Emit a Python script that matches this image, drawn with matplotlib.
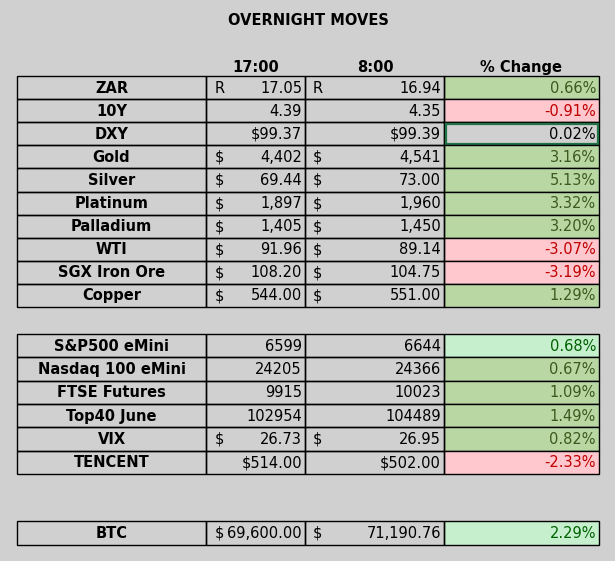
import matplotlib
matplotlib.use("Agg")
import matplotlib.pyplot as plt

plt.rcParams["font.family"] = ["Liberation Sans Narrow", "DejaVu Sans"]

# data
names = ["ZAR", "10Y", "DXY", "Gold", "Silver", "Platinum", "Palladium", "WTI", "SGX Iron Ore", "Copper",
         "S&P500 eMini", "Nasdaq 100 eMini", "FTSE Futures", "Top40 June", "VIX", "TENCENT", "BTC"]
pre1 = ["R", "", "", "$", "$", "$", "$", "$", "$", "$", "", "", "", "", "$", "", "$"]
val1 = ["17.05", "4.39", "$99.37", "4,402", "69.44", "1,897", "1,405", "91.96", "108.20", "544.00",
        "6599", "24205", "9915", "102954", "26.73", "$514.00", "69,600.00"]
pre2 = ["R", "", "", "$", "$", "$", "$", "$", "$", "$", "", "", "", "", "$", "", "$"]
val2 = ["16.94", "4.35", "$99.39", "4,541", "73.00", "1,960", "1,450", "89.14", "104.75", "551.00",
        "6644", "24366", "10023", "104489", "26.95", "$502.00", "71,190.76"]
pct = ["0.66%", "-0.91%", "0.02%", "3.16%", "5.13%", "3.32%", "3.20%", "-3.07%", "-3.19%", "1.29%",
       "0.68%", "0.67%", "1.09%", "1.49%", "0.82%", "-2.33%", "2.29%"]
style = ["g", "r", "w", "g", "g", "g", "g", "r", "r", "g", "lg", "g", "g", "g", "g", "r", "lg"]

fills = {"g": ("#b8d7a3", "#3c5a1e"), "r": ("#ffc7ce", "#c00000"),
         "w": ("#d0d0d0", "#000000"), "lg": ("#c6efce", "#006100")}

blocks = [(0, 10, 76, 23.1), (10, 16, 334, 23.3), (16, 17, 521, 24)]
xs = [17, 206, 305, 444, 599]
fs = 10.5

fig = plt.figure(figsize=(6.15, 5.61), dpi=100)
fig.patch.set_facecolor("#d0d0d0")
ax = fig.add_axes([0, 0, 1, 1])
ax.set_xlim(0, 615)
ax.set_ylim(561, 0)
ax.axis("off")

ax.text(308, 20, "OVERNIGHT MOVES", ha="center", va="center", fontsize=fs, fontweight="bold")
for x, t in [(256, "17:00"), (375, "8:00"), (521, "% Change")]:
    ax.text(x, 67, t, ha="center", va="center", fontsize=fs, fontweight="bold")

for a, b, y0, h in blocks:
    for k, i in enumerate(range(a, b)):
        y = y0 + k * h
        fc, tc = fills[style[i]]
        ax.add_patch(plt.Rectangle((xs[3], y), xs[4] - xs[3], h, facecolor=fc, edgecolor="black", lw=1))
        for j in range(3):
            ax.add_patch(plt.Rectangle((xs[j], y), xs[j + 1] - xs[j], h, facecolor="none", edgecolor="black", lw=1))
        if style[i] == "w":
            ax.add_patch(plt.Rectangle((xs[3] + 1.5, y + 1.5), xs[4] - xs[3] - 3, h - 3,
                                       facecolor="none", edgecolor="#217346", lw=1.6))
        yc = y + h / 2 + 0.5
        ax.text((xs[0] + xs[1]) / 2, yc, names[i], ha="center", va="center", fontsize=fs, fontweight="bold")
        ax.text(xs[1] + 9, yc, pre1[i], ha="left", va="center", fontsize=fs)
        ax.text(xs[2] - 3, yc, val1[i], ha="right", va="center", fontsize=fs)
        ax.text(xs[2] + 8, yc, pre2[i], ha="left", va="center", fontsize=fs)
        ax.text(xs[3] - 3, yc, val2[i], ha="right", va="center", fontsize=fs)
        ax.text(xs[4] - 3, yc, pct[i], ha="right", va="center", fontsize=fs, color=tc)

fig.savefig("out.png", dpi=100, facecolor=fig.get_facecolor())
